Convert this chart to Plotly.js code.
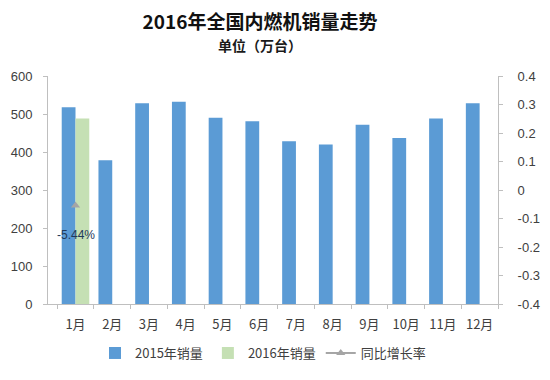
<!DOCTYPE html>
<html>
<head>
<meta charset="utf-8">
<script src="https://cdn.plot.ly/plotly-3.0.1.min.js"></script>
<style>html,body{margin:0;padding:0;background:#fff;}#chart{width:550px;height:380px;}</style>
</head>
<body>
<div id="chart"></div>
<script>
const months = ["1月","2月","3月","4月","5月","6月","7月","8月","9月","10月","11月","12月"];
const sales2015 = [518, 378, 528, 532, 490, 481, 428, 420, 472, 437, 488, 528];
const sales2016 = [488];
const growthMonths = ["1月"];
const growth = [-0.0544];
const growthLabels = ["-5.44%"];
const leftTicks = [0, 100, 200, 300, 400, 500, 600];
const rightTickVals = [-0.4, -0.3, -0.2, -0.1, 0, 0.1, 0.2, 0.3, 0.4];
const rightTickText = ["-0.4", "-0.3", "-0.2", "-0.1", "0", "0.1", "0.2", "0.3", "0.4"];

const cjk = '"Noto Sans CJK SC", "Noto Sans", sans-serif';

const traces = [
  {type: 'bar', name: '2015年销量', x: months, y: sales2015, marker: {color: '#5B9BD5'}, hoverinfo: 'skip'},
  {type: 'bar', name: '2016年销量', x: months.slice(0, sales2016.length), y: sales2016, marker: {color: '#C5E0B4'}, hoverinfo: 'skip'},
  {type: 'scatter', name: '同比增长率', x: growthMonths, y: growth, yaxis: 'y2', mode: 'lines+markers',
   line: {color: '#A5A5A5', width: 2}, marker: {symbol: 'triangle-up', size: 8, color: '#A5A5A5'}, hoverinfo: 'skip'}
];

const annotations = [
  {text: '单位（万台）', xref: 'paper', yref: 'paper', x: (260 - 48) / 450, y: (306 - 45) / 230,
   showarrow: false, font: {family: cjk, size: 14, color: '#1a1a1a', weight: 'bold'}, xanchor: 'center', yanchor: 'middle'}
];
growth.forEach((g, i) => {
  annotations.push({text: growthLabels[i], x: growthMonths[i], y: g, xref: 'x', yref: 'y2', yshift: -29, showarrow: false,
    font: {family: '"Liberation Sans", sans-serif', size: 12, color: '#1F3A5A'}});
});

const layout = {
  width: 550, height: 380,
  margin: {l: 48, r: 52, t: 76, b: 74},
  paper_bgcolor: '#ffffff', plot_bgcolor: '#ffffff',
  title: {text: '<b>2016年全国内燃机销量走势</b>', font: {family: cjk, size: 19, color: '#111'},
          xref: 'container', x: 260 / 550, xanchor: 'center', yref: 'container', y: 1 - 22 / 380, yanchor: 'middle'},
  barmode: 'group', bargap: 0.25, bargroupgap: 0,
  showlegend: true,
  legend: {orientation: 'h', x: (263 - 48) / 450, xanchor: 'center', y: -0.215, yanchor: 'middle',
           font: {family: cjk, size: 13, color: '#404040'}, traceorder: 'normal'},
  xaxis: {type: 'category', categoryarray: months, tickson: 'boundaries', ticks: 'outside', ticklen: 4,
          tickcolor: '#BFBFBF', showline: true, linecolor: '#BFBFBF', linewidth: 1, showgrid: false,
          ticklabelstandoff: 8,
          tickfont: {family: cjk, size: 13, color: '#404040'}, fixedrange: true},
  yaxis: {range: [0, 600], tickvals: leftTicks, ticks: 'outside', ticklen: 4, tickcolor: '#BFBFBF',
          showline: true, linecolor: '#BFBFBF', showgrid: false, zeroline: false, ticklabelstandoff: 8,
          tickfont: {family: '"Liberation Sans", sans-serif', size: 13, color: '#404040'}, fixedrange: true},
  yaxis2: {overlaying: 'y', side: 'right', range: [-0.4, 0.4], tickvals: rightTickVals, ticktext: rightTickText,
           ticks: 'outside', ticklen: 4, tickcolor: '#BFBFBF', showline: true, linecolor: '#BFBFBF',
           showgrid: false, zeroline: false, ticklabelstandoff: 12,
           tickfont: {family: '"Liberation Sans", sans-serif', size: 13, color: '#404040'}, fixedrange: true},
  annotations: annotations
};

Plotly.newPlot('chart', traces, layout, {displayModeBar: false, staticPlot: true});
</script>
</body>
</html>
